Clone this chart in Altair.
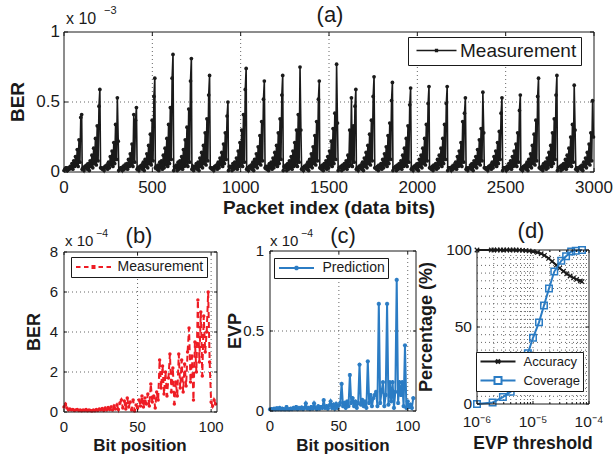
import altair as alt
import pandas as pd

FONT = "Liberation Sans"
INK = "#1a1a1a"
RED = "#ee1c24"
BLUE = "#2b7cc4"
GRID = "#555555"
CANVAS_W, CANVAS_H = 613, 455

# ---------------- data ----------------
# (a) BER measured over 29 packets, sampled every 5 bits (units of 1e-3)
A_SERIES = ["Measurement"]
A_PACKET_START = [0, 103, 207, 310, 414, 517, 621, 724, 828, 931, 1034, 1138, 1241, 1345, 1448,
                  1552, 1655, 1759, 1862, 1966, 2069, 2172, 2276, 2379, 2483, 2586, 2690, 2793, 2897]
A_BIT_OFFSET = [0, 5, 10, 15, 20, 25, 30, 35, 40, 45, 50, 55, 60, 65, 70, 75, 80, 85, 90, 95, 100]
A_BER = [
    [0.01, 0.02, 0.03, 0.03, 0.01, 0.03, 0.02, 0.04, 0.03, 0.06, 0.02, 0.08, 0.04, 0.11, 0.05, 0.16, 0.04, 0.23, 0.07, 0.39, 0.41],
    [0.02, 0.03, 0.01, 0.04, 0.03, 0.05, 0.02, 0.06, 0.01, 0.08, 0.04, 0.12, 0.03, 0.17, 0.06, 0.24, 0.05, 0.33, 0.08, 0.47, 0.59],
    [0.03, 0.03, 0.02, 0.03, 0.01, 0.04, 0.03, 0.05, 0.02, 0.07, 0.03, 0.11, 0.05, 0.15, 0.04, 0.21, 0.06, 0.34, 0.09, 0.53, 0.22],
    [0.01, 0.02, 0.03, 0.03, 0.01, 0.04, 0.02, 0.05, 0.03, 0.06, 0.02, 0.09, 0.04, 0.13, 0.05, 0.2, 0.04, 0.41, 0.07, 0.37, 0.46],
    [0.02, 0.03, 0.01, 0.04, 0.03, 0.05, 0.02, 0.07, 0.01, 0.09, 0.04, 0.13, 0.03, 0.19, 0.06, 0.27, 0.05, 0.37, 0.08, 0.54, 0.67],
    [0.03, 0.04, 0.02, 0.05, 0.01, 0.07, 0.03, 0.08, 0.02, 0.12, 0.03, 0.17, 0.05, 0.24, 0.04, 0.34, 0.06, 0.46, 0.09, 0.67, 0.84],
    [0.01, 0.04, 0.03, 0.05, 0.01, 0.07, 0.02, 0.08, 0.03, 0.11, 0.02, 0.16, 0.04, 0.23, 0.05, 0.32, 0.04, 0.45, 0.07, 0.65, 0.81],
    [0.02, 0.04, 0.01, 0.04, 0.03, 0.06, 0.02, 0.07, 0.01, 0.1, 0.04, 0.14, 0.03, 0.19, 0.06, 0.28, 0.05, 0.38, 0.08, 0.55, 0.69],
    [0.03, 0.03, 0.02, 0.03, 0.01, 0.04, 0.03, 0.05, 0.02, 0.07, 0.03, 0.1, 0.05, 0.14, 0.04, 0.2, 0.06, 0.28, 0.09, 0.4, 0.5],
    [0.01, 0.04, 0.03, 0.04, 0.01, 0.06, 0.02, 0.07, 0.03, 0.1, 0.02, 0.15, 0.04, 0.21, 0.05, 0.3, 0.04, 0.41, 0.07, 0.59, 0.74],
    [0.02, 0.03, 0.01, 0.04, 0.03, 0.05, 0.02, 0.07, 0.01, 0.09, 0.04, 0.13, 0.03, 0.18, 0.06, 0.26, 0.05, 0.36, 0.08, 0.52, 0.65],
    [0.03, 0.04, 0.02, 0.04, 0.01, 0.06, 0.03, 0.07, 0.02, 0.1, 0.03, 0.14, 0.05, 0.19, 0.04, 0.28, 0.06, 0.38, 0.09, 0.55, 0.69],
    [0.01, 0.04, 0.03, 0.05, 0.01, 0.06, 0.02, 0.08, 0.03, 0.11, 0.02, 0.15, 0.04, 0.21, 0.05, 0.3, 0.04, 0.41, 0.07, 0.75, 0.3],
    [0.02, 0.03, 0.01, 0.04, 0.03, 0.05, 0.02, 0.07, 0.01, 0.09, 0.04, 0.13, 0.03, 0.18, 0.06, 0.26, 0.05, 0.36, 0.08, 0.52, 0.65],
    [0.03, 0.04, 0.02, 0.05, 0.01, 0.06, 0.03, 0.08, 0.02, 0.11, 0.03, 0.15, 0.05, 0.22, 0.04, 0.31, 0.06, 0.42, 0.09, 0.77, 0.35],
    [0.01, 0.03, 0.03, 0.04, 0.01, 0.05, 0.02, 0.06, 0.03, 0.08, 0.02, 0.12, 0.04, 0.3, 0.05, 0.53, 0.04, 0.33, 0.07, 0.47, 0.59],
    [0.02, 0.03, 0.01, 0.04, 0.03, 0.05, 0.02, 0.07, 0.01, 0.1, 0.04, 0.14, 0.03, 0.19, 0.06, 0.27, 0.05, 0.37, 0.08, 0.54, 0.68],
    [0.03, 0.03, 0.02, 0.04, 0.01, 0.05, 0.03, 0.06, 0.02, 0.09, 0.03, 0.13, 0.05, 0.18, 0.04, 0.26, 0.06, 0.35, 0.09, 0.51, 0.64],
    [0.01, 0.03, 0.03, 0.04, 0.01, 0.05, 0.02, 0.06, 0.03, 0.08, 0.02, 0.12, 0.04, 0.17, 0.05, 0.24, 0.04, 0.33, 0.07, 0.48, 0.6],
    [0.02, 0.03, 0.01, 0.04, 0.03, 0.05, 0.02, 0.06, 0.01, 0.09, 0.04, 0.12, 0.03, 0.17, 0.06, 0.24, 0.05, 0.34, 0.08, 0.49, 0.61],
    [0.03, 0.03, 0.02, 0.04, 0.01, 0.05, 0.03, 0.06, 0.02, 0.09, 0.03, 0.12, 0.05, 0.17, 0.04, 0.24, 0.06, 0.34, 0.09, 0.49, 0.61],
    [0.01, 0.03, 0.03, 0.03, 0.01, 0.04, 0.02, 0.05, 0.03, 0.07, 0.02, 0.11, 0.04, 0.15, 0.05, 0.21, 0.04, 0.36, 0.07, 0.42, 0.53],
    [0.02, 0.03, 0.01, 0.03, 0.03, 0.05, 0.02, 0.06, 0.01, 0.08, 0.04, 0.11, 0.03, 0.16, 0.06, 0.23, 0.05, 0.31, 0.08, 0.57, 0.28],
    [0.03, 0.03, 0.02, 0.03, 0.01, 0.04, 0.03, 0.05, 0.02, 0.07, 0.03, 0.11, 0.05, 0.15, 0.04, 0.21, 0.06, 0.29, 0.09, 0.42, 0.53],
    [0.01, 0.03, 0.03, 0.03, 0.01, 0.04, 0.02, 0.06, 0.03, 0.08, 0.02, 0.11, 0.04, 0.15, 0.05, 0.2, 0.04, 0.28, 0.07, 0.44, 0.55],
    [0.02, 0.03, 0.01, 0.04, 0.03, 0.05, 0.02, 0.07, 0.01, 0.09, 0.04, 0.13, 0.03, 0.19, 0.06, 0.27, 0.05, 0.37, 0.08, 0.54, 0.67],
    [0.03, 0.03, 0.02, 0.04, 0.01, 0.06, 0.03, 0.07, 0.02, 0.1, 0.03, 0.14, 0.05, 0.19, 0.04, 0.28, 0.06, 0.38, 0.09, 0.55, 0.69],
    [0.01, 0.03, 0.03, 0.04, 0.01, 0.05, 0.02, 0.06, 0.03, 0.09, 0.02, 0.12, 0.04, 0.17, 0.05, 0.25, 0.04, 0.34, 0.07, 0.62, 0.3],
    [0.02, 0.03, 0.01, 0.03, 0.03, 0.04, 0.02, 0.05, 0.01, 0.07, 0.04, 0.1, 0.03, 0.14, 0.06, 0.2, 0.05, 0.28, 0.08, 0.51, 0.25],
]

# (b) measured BER per bit position (units of 1e-4)
B_SERIES = ["Measurement"]
B_BER = [0.25, 0.4, 0.2, 0.1, 0.15, 0.1, 0.12, 0.08, 0.1, 0.12,
         0.08, 0.1, 0.06, 0.1, 0.08, 0.12, 0.06, 0.1, 0.08, 0.05,
         0.1, 0.06, 0.12, 0.08, 0.15, 0.1, 0.18, 0.08, 0.2, 0.1,
         0.22, 0.12, 0.25, 0.1, 0.3, 0.15, 0.35, 0.12, 0.45, 0.6,
         0.2, 0.55, 0.15, 0.7, 0.25, 0.5, 0.1, 0.6, 0.05, 0.35,
         0.2, 0.6, 0.3, 0.8, 0.25, 0.7, 0.4, 0.9, 0.3, 1.4,
         0.5, 0.8, 0.2, 1.0, 0.6, 2.6, 1.2, 2.3, 0.9, 2.0,
         0.8, 1.7, 2.9, 1.0, 2.2, 0.4, 1.5, 0.8, 2.9, 1.2,
         2.6, 1.0, 2.4, 1.3, 3.0, 4.2, 1.5, 2.8, 0.6, 3.5,
         2.0, 5.6, 2.5, 5.0, 1.8, 4.8, 3.0, 4.0, 6.0, 2.5,
         0.5, 0.3, 0.6, 0.4]

# (c) predicted EVP per bit position (units of 1e-4)
C_SERIES = ["Prediction"]
C_EVP = [0.01, 0.012, 0.01, 0.015, 0.01, 0.018, 0.012, 0.02, 0.01, 0.015,
         0.012, 0.01, 0.025, 0.012, 0.01, 0.015, 0.012, 0.02, 0.015, 0.025,
         0.012, 0.02, 0.015, 0.022, 0.012, 0.02, 0.048, 0.015, 0.02, 0.012,
         0.025, 0.015, 0.048, 0.02, 0.012, 0.03, 0.015, 0.025, 0.02, 0.068,
         0.02, 0.03, 0.015, 0.035, 0.06, 0.02, 0.04, 0.015, 0.045, 0.02,
         0.035, 0.05, 0.17, 0.03, 0.05, 0.02, 0.06, 0.03, 0.225, 0.05,
         0.08, 0.03, 0.06, 0.02, 0.05, 0.29, 0.04, 0.07, 0.03, 0.06,
         0.02, 0.31, 0.05, 0.1, 0.03, 0.08, 0.1, 0.12, 0.03, 0.67,
         0.05, 0.12, 0.18, 0.03, 0.1, 0.67, 0.04, 0.18, 0.06, 0.18,
         0.02, 0.12, 0.82, 0.05, 0.18, 0.1, 0.18, 0.03, 0.41, 0.02,
         0.06, 0.025, 0.04, 0.02, 0.08]

# (d) accuracy / coverage vs EVP threshold (percent)
D_SERIES = ["Accuracy", "Coverage"]
D_ACC_THR = [1e-6, 1.8e-6, 2e-6, 2.3e-6, 2.6e-6, 3e-6, 3.4e-6, 3.9e-6, 4.4e-6, 5e-6,
             5.7e-6, 6.5e-6, 7.5e-6, 8.5e-6, 1e-5, 1.2e-5, 1.4e-5, 1.6e-5, 1.9e-5, 2.2e-5,
             2.6e-5, 3e-5, 3.5e-5, 4e-5, 4.6e-5, 5.3e-5, 6e-5, 7e-5, 7.5e-5]
D_ACC = [100, 100, 100, 100, 100, 100, 100, 100, 100, 100,
         99.9, 99.8, 99.6, 99.4, 99.0, 98.4, 97.6, 96.5, 94.6, 92.6,
         90.2, 88.2, 86.2, 84.6, 83.1, 81.9, 80.9, 79.9, 79.5]
D_COV_THR = [1e-6, 1.9e-6, 2.9e-6, 4e-6, 5e-6, 6.3e-6, 8.1e-6, 1e-5, 1.28e-5, 1.57e-5,
             1.93e-5, 2.4e-5, 3.2e-5, 3.9e-5, 4.8e-5, 5.8e-5, 7.5e-5]
D_COV = [0, 1, 4.5, 8, 12, 20, 33, 43, 53, 64, 75, 86, 93, 96, 99, 99.5, 100]

# tick values, tick labels, grid values
A_X_TICKS = [0, 500, 1000, 1500, 2000, 2500, 3000]
A_X_LABELS = ["0", "500", "1000", "1500", "2000", "2500", "3000"]
A_Y_TICKS = [0, 0.5, 1]
A_Y_LABELS = ["0", "0.5", "1"]
A_X_GRID = [500, 1000, 1500, 2000, 2500]
A_Y_GRID = [0.5]
B_X_TICKS = [0, 50, 100]
B_X_LABELS = ["0", "50", "100"]
B_Y_TICKS = [0, 2, 4, 6, 8]
B_Y_LABELS = ["0", "2", "4", "6", "8"]
B_X_GRID = [50, 100]
B_Y_GRID = [2, 4, 6]
C_X_TICKS = [0, 50, 100]
C_X_LABELS = ["0", "50", "100"]
C_Y_TICKS = [0, 0.5, 1]
C_Y_LABELS = ["0", "0.5", "1"]
C_X_GRID = [50, 100]
C_Y_GRID = [0.5]
D_X_TICKS = [1e-6, 1e-5, 1e-4]
D_X_LABELS = ["10\u207b\u2076", "10\u207b\u2075", "10\u207b\u2074"]
D_Y_TICKS = [0, 50, 100]
D_Y_LABELS = ["0", "50", "100"]
D_X_GRID = [2e-6, 3e-6, 4e-6, 5e-6, 6e-6, 7e-6, 8e-6, 9e-6, 1e-5,
            2e-5, 3e-5, 4e-5, 5e-5, 6e-5, 7e-5, 8e-5, 9e-5]
D_Y_GRID = [5, 10, 15, 20, 25, 30, 35, 40, 45, 50, 55, 60, 65, 70, 75, 80, 85, 90, 95]
D_X_MINOR_TICKS = [2e-6, 3e-6, 4e-6, 5e-6, 6e-6, 7e-6, 8e-6, 9e-6,
                   2e-5, 3e-5, 4e-5, 5e-5, 6e-5, 7e-5, 8e-5, 9e-5]

PANEL_TITLES = ["(a)", "(b)", "(c)", "(d)"]
X_TITLES = ["Packet index (data bits)", "Bit position", "Bit position", "EVP threshold"]
Y_TITLES = ["BER", "BER", "EVP", "Percentage (%)"]
EXP_BASE = "x 10"
A_EXP = "\u22123"
BC_EXP = "\u22124"

# ---------------- layout (pixel boxes: left, right, bottom, top) ----------------
A_BOX = (64, 594, 172, 32)
B_BOX = (64, 217, 412, 252)
C_BOX = (270, 416, 411, 251)
D_BOX = (477, 589, 404, 250)

A_XDOM, A_YDOM = [0, 3000], [0, 1]
B_XDOM, B_YDOM = [0, 104], [0, 8]
C_XDOM, C_YDOM = [0, 106], [0, 1]
D_XDOM, D_YDOM = [1e-6, 1e-4], [0, 100]

# inward tick glyphs (unit segments pointing into the plot)
TICK_UP, TICK_DOWN, TICK_RIGHT, TICK_LEFT = "M0,0V-1", "M0,0V1", "M0,0H1", "M0,0H-1"


def make_scales(xdom, ydom, box, xtype="linear"):
    l, r, b, t = box
    if xtype == "log":
        sx = alt.Scale(type="log", domain=xdom, range=[l, r], nice=False)
    else:
        sx = alt.Scale(type="linear", domain=xdom, range=[l, r], nice=False, zero=False)
    sy = alt.Scale(type="linear", domain=ydom, range=[b, t], nice=False, zero=False)
    return sx, sy


def frame_layer(xdom, ydom, sx, sy):
    df = pd.DataFrame({"fx0": [xdom[0]], "fx1": [xdom[1]], "fy0": [ydom[0]], "fy1": [ydom[1]]})
    return alt.Chart(df).mark_rect(fillOpacity=0, stroke=INK, strokeWidth=1).encode(
        x=alt.X("fx0:Q", scale=sx, axis=None), x2="fx1:Q",
        y=alt.Y("fy0:Q", scale=sy, axis=None), y2="fy1:Q")


def tick_mark_layers(xt, yt, xdom, ydom, sx, sy, length=4):
    size = (2 * length) ** 2
    style = dict(filled=False, color=INK, strokeWidth=1, opacity=1, size=size)
    out = []
    for vals, base, shape, horiz in ((xt, ydom[0], TICK_UP, True), (xt, ydom[1], TICK_DOWN, True),
                                     (yt, xdom[0], TICK_RIGHT, False), (yt, xdom[1], TICK_LEFT, False)):
        if not vals:
            continue
        df = pd.DataFrame({"v": vals, "base": [base] * len(vals)})
        if horiz:
            enc = dict(x=alt.X("v:Q", scale=sx, axis=None), y=alt.Y("base:Q", scale=sy, axis=None))
        else:
            enc = dict(y=alt.Y("v:Q", scale=sy, axis=None), x=alt.X("base:Q", scale=sx, axis=None))
        out.append(alt.Chart(df).mark_point(shape=shape, **style).encode(**enc))
    return out


def grid_layers(xgrid, ygrid, xdom, ydom, sx, sy):
    gx = pd.DataFrame({"gx": xgrid, "gy0": [ydom[0]] * len(xgrid), "gy1": [ydom[1]] * len(xgrid)})
    gy = pd.DataFrame({"hy": ygrid, "hx0": [xdom[0]] * len(ygrid), "hx1": [xdom[1]] * len(ygrid)})
    style = dict(color=GRID, strokeDash=[1, 3], strokeWidth=0.9)
    vx = alt.Chart(gx).mark_rule(**style).encode(
        x=alt.X("gx:Q", scale=sx, axis=None),
        y=alt.Y("gy0:Q", scale=sy, axis=None), y2="gy1:Q")
    hy = alt.Chart(gy).mark_rule(**style).encode(
        y=alt.Y("hy:Q", scale=sy, axis=None),
        x=alt.X("hx0:Q", scale=sx, axis=None), x2="hx1:Q")
    return [vx, hy]


def tick_label_layers(xt, xl, yt, yl, xdom, ydom, sx, sy, size, xpad, ypad):
    dx_ = pd.DataFrame({"v": xt, "lab": xl, "base": [ydom[0]] * len(xt)})
    dy_ = pd.DataFrame({"v": yt, "lab": yl, "base": [xdom[0]] * len(yt)})
    xl_layer = alt.Chart(dx_).mark_text(font=FONT, fontSize=size, color=INK, baseline="top",
                                        align="center", dy=xpad).encode(
        x=alt.X("v:Q", scale=sx, axis=None), y=alt.Y("base:Q", scale=sy, axis=None), text="lab:N")
    yl_layer = alt.Chart(dy_).mark_text(font=FONT, fontSize=size, color=INK, baseline="middle",
                                        align="right", dx=-ypad).encode(
        y=alt.Y("v:Q", scale=sy, axis=None), x=alt.X("base:Q", scale=sx, axis=None), text="lab:N")
    return [xl_layer, yl_layer]


def legend_def(x, y, lsize, sym_off, lab_off, pad, sw, row_pad=2):
    return alt.Legend(orient="none", legendX=x, legendY=y, title=None, direction="vertical",
                      fillColor="white", strokeColor=INK, padding=pad, cornerRadius=0,
                      labelFont=FONT, labelFontSize=lsize, labelColor=INK, labelLimit=400,
                      symbolSize=100, symbolStrokeWidth=sw, symbolOffset=sym_off,
                      labelOffset=lab_off, symbolOpacity=1, rowPadding=row_pad)


def legend_layer(series, colors, paths, leg, sw):
    df = pd.DataFrame({"series": series})
    return alt.Chart(df).transform_filter("false").mark_point(filled=False, strokeWidth=sw).encode(
        color=alt.Color("series:N", scale=alt.Scale(domain=series, range=colors), legend=leg),
        shape=alt.Shape("series:N", scale=alt.Scale(domain=series, range=paths), legend=leg))


def text_layer(txt, x, y, size, align="center", baseline="middle", weight="normal", angle=0):
    return alt.Chart(pd.DataFrame({"t": [txt]})).mark_text(
        font=FONT, fontSize=size, color=INK, align=align, baseline=baseline,
        fontWeight=weight, angle=angle).encode(
        x=alt.value(x), y=alt.value(y), text="t:N")


# ---------------- panel (a) ----------------
rows = []
for start, vals in zip(A_PACKET_START, A_BER):
    assert len(vals) == len(A_BIT_OFFSET)
    for off, v in zip(A_BIT_OFFSET, vals):
        rows.append({"bit": start + off, "ber": v})
df_a = pd.DataFrame(rows)
sxa, sya = make_scales(A_XDOM, A_YDOM, A_BOX)
enc_a = dict(x=alt.X("bit:Q", scale=sxa, axis=None), y=alt.Y("ber:Q", scale=sya, axis=None))
line_a = alt.Chart(df_a).mark_line(color=INK, strokeWidth=1.6).encode(**enc_a)
pts_a = alt.Chart(df_a).mark_circle(color=INK, size=14, opacity=1).encode(**enc_a)
PATH_A = "M-4,0H4M-0.2,-0.2H0.2V0.2H-0.2Z"
leg_a = legend_def(408, 37, 19, 15, 14, 4, 1.3)
panel_a = alt.layer(*grid_layers(A_X_GRID, A_Y_GRID, A_XDOM, A_YDOM, sxa, sya), line_a, pts_a,
                    *tick_label_layers(A_X_TICKS, A_X_LABELS, A_Y_TICKS, A_Y_LABELS,
                                       A_XDOM, A_YDOM, sxa, sya, 17, 8, 4),
                    *tick_mark_layers(A_X_TICKS, A_Y_TICKS, A_XDOM, A_YDOM, sxa, sya, 4),
                    legend_layer(A_SERIES, [INK], [PATH_A], leg_a, 1.3),
                    frame_layer(A_XDOM, A_YDOM, sxa, sya))

# ---------------- panel (b) ----------------
df_b = pd.DataFrame({"bit": list(range(len(B_BER))), "ber": B_BER})
sxb, syb = make_scales(B_XDOM, B_YDOM, B_BOX)
enc_b = dict(x=alt.X("bit:Q", scale=sxb, axis=None), y=alt.Y("ber:Q", scale=syb, axis=None))
line_b = alt.Chart(df_b).mark_line(color=RED, strokeWidth=2, strokeDash=[6, 4]).encode(**enc_b)
pts_b = alt.Chart(df_b).mark_circle(color=RED, size=12, opacity=1).encode(**enc_b)
PATH_B = "M-3.5,0H-2.6M-1.9,0H-1M1,0H1.9M2.6,0H3.5M-0.2,-0.2H0.2V0.2H-0.2Z"
leg_b = legend_def(71, 257, 14, 12.5, 17, 3, 2)
panel_b = alt.layer(*grid_layers(B_X_GRID, B_Y_GRID, B_XDOM, B_YDOM, sxb, syb), line_b, pts_b,
                    *tick_label_layers(B_X_TICKS, B_X_LABELS, B_Y_TICKS, B_Y_LABELS,
                                       B_XDOM, B_YDOM, sxb, syb, 15, 8, 6),
                    *tick_mark_layers(B_X_TICKS, B_Y_TICKS, B_XDOM, B_YDOM, sxb, syb, 3),
                    legend_layer(B_SERIES, [RED], [PATH_B], leg_b, 2),
                    frame_layer(B_XDOM, B_YDOM, sxb, syb))

# ---------------- panel (c) ----------------
df_c = pd.DataFrame({"bit": list(range(len(C_EVP))), "evp": C_EVP})
sxc, syc = make_scales(C_XDOM, C_YDOM, C_BOX)
enc_c = dict(x=alt.X("bit:Q", scale=sxc, axis=None), y=alt.Y("evp:Q", scale=syc, axis=None))
ASTERISK = "M-1,0H1M0,-1V1M-0.7,-0.7L0.7,0.7M-0.7,0.7L0.7,-0.7"
line_c = alt.Chart(df_c).mark_line(color=BLUE, strokeWidth=2).encode(**enc_c)
pts_c = alt.Chart(df_c).mark_point(color=BLUE, shape=ASTERISK, size=18, strokeWidth=1.2,
                                   filled=False, opacity=1).encode(**enc_c)
PATH_C = "M-3.5,0H3.5M-0.45,0H0.45M0,-0.45V0.45M-0.32,-0.32L0.32,0.32M-0.32,0.32L0.32,-0.32"
leg_c = legend_def(274, 258, 14, 12.5, 19, 3, 2)
panel_c = alt.layer(*grid_layers(C_X_GRID, C_Y_GRID, C_XDOM, C_YDOM, sxc, syc), line_c, pts_c,
                    *tick_label_layers(C_X_TICKS, C_X_LABELS, C_Y_TICKS, C_Y_LABELS,
                                       C_XDOM, C_YDOM, sxc, syc, 15, 8, 6),
                    *tick_mark_layers(C_X_TICKS, C_Y_TICKS, C_XDOM, C_YDOM, sxc, syc, 3),
                    legend_layer(C_SERIES, [BLUE], [PATH_C], leg_c, 2),
                    frame_layer(C_XDOM, C_YDOM, sxc, syc))

# ---------------- panel (d) ----------------
df_acc = pd.DataFrame({"thr": D_ACC_THR, "pct": D_ACC})
df_cov = pd.DataFrame({"thr": D_COV_THR, "pct": D_COV})
sxd, syd = make_scales(D_XDOM, D_YDOM, D_BOX, xtype="log")
XMARK = "M-1,-1L1,1M-1,1L1,-1"
enc_d = dict(x=alt.X("thr:Q", scale=sxd, axis=None), y=alt.Y("pct:Q", scale=syd, axis=None))
line_acc = alt.Chart(df_acc).mark_line(color=INK, strokeWidth=2).encode(**enc_d)
pts_acc = alt.Chart(df_acc).mark_point(color=INK, shape=XMARK, size=20, strokeWidth=1.2,
                                       filled=False, opacity=1).encode(**enc_d)
line_cov = alt.Chart(df_cov).mark_line(color=BLUE, strokeWidth=2).encode(**enc_d)
pts_cov = alt.Chart(df_cov).mark_point(color=BLUE, shape="square", size=42, strokeWidth=1.5,
                                       filled=False, opacity=1).encode(**enc_d)
PATH_ACC = "M-3.5,0H3.5M-0.4,-0.4L0.4,0.4M-0.4,0.4L0.4,-0.4"
PATH_COV = "M-3.5,0H-0.7M0.7,0H3.5M-0.7,-0.7H0.7V0.7H-0.7Z"
leg_d = legend_def(476, 352, 13, 12.5, 19, 3, 2, row_pad=4)
panel_d = alt.layer(*grid_layers(D_X_GRID, D_Y_GRID, D_XDOM, D_YDOM, sxd, syd),
                    line_acc, pts_acc, line_cov, pts_cov,
                    *tick_label_layers(D_X_TICKS, D_X_LABELS, D_Y_TICKS, D_Y_LABELS,
                                       D_XDOM, D_YDOM, sxd, syd, 15.5, 11, 5),
                    *tick_mark_layers(D_X_TICKS, D_Y_TICKS, D_XDOM, D_YDOM, sxd, syd, 3),
                    *tick_mark_layers(D_X_MINOR_TICKS, [], D_XDOM, D_YDOM, sxd, syd, 2),
                    legend_layer(D_SERIES, [INK, BLUE], [PATH_ACC, PATH_COV], leg_d, 2),
                    frame_layer(D_XDOM, D_YDOM, sxd, syd))

# ---------------- annotations: panel titles, axis titles, exponents ----------------
annots = [
    text_layer(PANEL_TITLES[0], 330, 15, 22),
    text_layer(PANEL_TITLES[1], 139, 236, 22),
    text_layer(PANEL_TITLES[2], 343, 236, 22),
    text_layer(PANEL_TITLES[3], 531, 231, 22),
    text_layer(X_TITLES[0], 329, 208, 19, weight="bold"),
    text_layer(X_TITLES[1], 140, 446, 17, weight="bold"),
    text_layer(X_TITLES[2], 343, 446, 17, weight="bold"),
    text_layer(X_TITLES[3], 533, 444, 17.5, weight="bold"),
    text_layer(Y_TITLES[0], 18, 102, 19, weight="bold", angle=270),
    text_layer(Y_TITLES[1], 35, 332, 18, weight="bold", angle=270),
    text_layer(Y_TITLES[2], 236, 331, 18, weight="bold", angle=270),
    text_layer(Y_TITLES[3], 427, 327, 18, weight="bold", angle=270),
    text_layer(EXP_BASE, 66, 24, 16, align="left", baseline="alphabetic"),
    text_layer(A_EXP, 104, 14, 11, align="left", baseline="alphabetic"),
    text_layer(EXP_BASE, 65, 246, 15, align="left", baseline="alphabetic"),
    text_layer(BC_EXP, 96, 237, 10.5, align="left", baseline="alphabetic"),
    text_layer(EXP_BASE, 270, 246, 15, align="left", baseline="alphabetic"),
    text_layer(BC_EXP, 301, 237, 10.5, align="left", baseline="alphabetic"),
]

chart = alt.layer(panel_a, panel_b, panel_c, panel_d, *annots).resolve_scale(
    x="independent", y="independent", color="independent", shape="independent"
).resolve_legend(
    color="independent", shape="independent"
).properties(width=CANVAS_W, height=CANVAS_H, padding=0).configure_view(stroke=None)

chart.save("out.html", embed_options={"renderer": "svg", "actions": False})
